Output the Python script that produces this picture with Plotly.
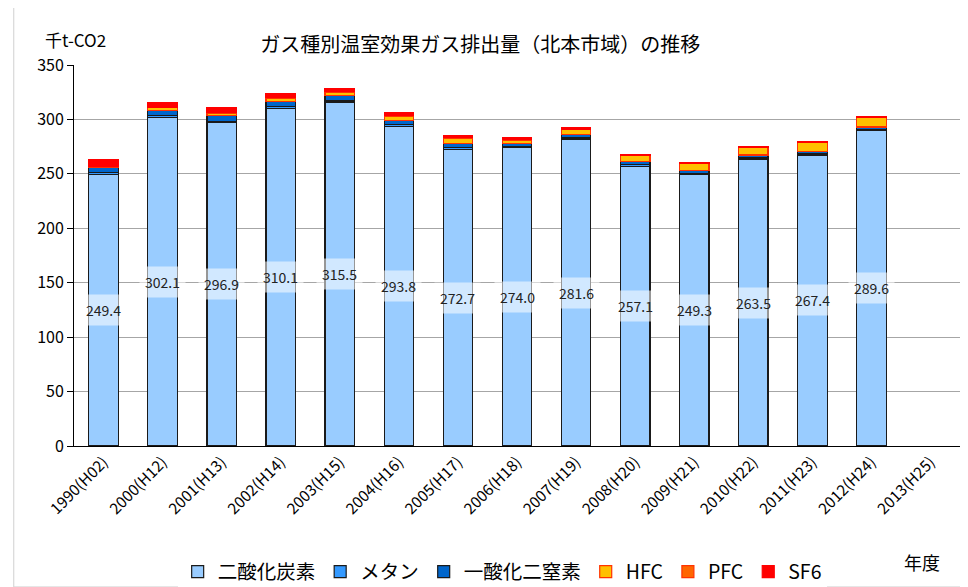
import plotly.graph_objects as go

years = ["1990(H02)", "2000(H12)", "2001(H13)", "2002(H14)", "2003(H15)", "2004(H16)",
         "2005(H17)", "2006(H18)", "2007(H19)", "2008(H20)", "2009(H21)", "2010(H22)",
         "2011(H23)", "2012(H24)", "2013(H25)"]
co2 = [249.4, 302.1, 296.9, 310.1, 315.5, 293.8, 272.7, 274.0, 281.6, 257.1, 249.3, 263.5, 267.4, 289.6, None]
ch4 = [2.0, 1.5, 1.5, 1.5, 1.5, 1.5, 1.5, 1.1, 1.4, 1.2, 1.2, 1.1, 1.0, 1.0, None]
n2o = [4.5, 4.5, 5.0, 5.0, 5.0, 3.7, 3.5, 2.5, 3.0, 3.0, 2.7, 2.7, 2.5, 2.4, None]
hfc = [0.3, 2.5, 2.2, 3.1, 3.2, 4.0, 4.5, 3.5, 4.5, 5.5, 6.0, 7.0, 8.0, 9.0, None]
pfc = [0.8, 0.5, 0.8, 0.6, 0.5, 0.5, 1.0, 0.8, 0.3, 0.3, 0.3, 0.2, 0.2, 0.1, None]
sf6 = [6.5, 4.8, 4.9, 3.8, 3.0, 3.2, 2.3, 1.5, 1.5, 1.0, 1.0, 1.0, 0.9, 0.9, None]

series = [
    ("二酸化炭素", co2, "#99CCFF", "#1A1A1A"),
    ("メタン", ch4, "#3399FF", "#1A1A1A"),
    ("一酸化二窒素", n2o, "#0066CC", "#1A1A1A"),
    ("HFC", hfc, "#FFC000", "#FF3300"),
    ("PFC", pfc, "#FF6600", "#FF3300"),
    ("SF6", sf6, "#FF0000", "#FF0000"),
]

font_family = "Noto Sans CJK JP, Noto Sans, sans-serif"

fig = go.Figure()
for name, vals, color, lc in series:
    fig.add_trace(go.Bar(
        x=years, y=vals, name=name,
        marker=dict(color=color, line=dict(color=lc, width=1.2)),
        hoverinfo="x+y+name",
    ))

for yr, v in zip(years, co2):
    if v is None:
        continue
    fig.add_annotation(
        x=yr, y=v / 2, text=f"{v:.1f}", showarrow=False,
        font=dict(size=14, color="#222222", family=font_family),
        bgcolor="rgba(255,255,255,0.55)", borderpad=5,
    )

fig.add_annotation(text="千t-CO2", xref="paper", yref="paper", x=-0.035, y=1.066,
                   xanchor="left", yanchor="middle", showarrow=False,
                   font=dict(size=17, color="#000000", family=font_family))
fig.add_annotation(text="年度", xref="paper", yref="paper", x=0.957, y=-0.304,
                   xanchor="center", yanchor="middle", showarrow=False,
                   font=dict(size=18, color="#000000", family=font_family))

fig.add_shape(type="rect", xref="paper", yref="paper", x0=-0.068, x1=1.002, y0=-0.37, y1=1.2,
              line=dict(color="#D0D0D0", width=1))

fig.update_layout(
    width=964, height=579,
    barmode="stack", bargap=0.5,
    plot_bgcolor="white", paper_bgcolor="white",
    margin=dict(l=66, r=12, t=57, b=141, autoexpand=False),
    title=dict(text="ガス種別温室効果ガス排出量（北本市域）の推移", x=0.49, xanchor="center",
               y=0.936, yanchor="middle",
               font=dict(size=20, color="#000000", family=font_family)),
    font=dict(family=font_family, color="#000000"),
    legend=dict(orientation="h", x=0.176, y=0.026, xref="container", yref="container",
                xanchor="left", yanchor="middle",
                font=dict(size=19.5, family=font_family), traceorder="normal",
                itemwidth=30, tracegroupgap=0),
    xaxis=dict(type="category", categoryorder="array", categoryarray=years,
               tickangle=-45, tickfont=dict(size=15.5, family=font_family), automargin=False,
               showline=True, linecolor="#000000", linewidth=1, ticks="", showgrid=False),
    yaxis=dict(range=[0, 350], dtick=50, tickfont=dict(size=16, family=font_family),
               automargin=False,
               showgrid=True, gridcolor="#A6A6A6", gridwidth=1,
               showline=True, linecolor="#000000", linewidth=1,
               ticks="outside", ticklen=6, tickcolor="#000000", zeroline=False),
)

fig.write_html("out.html")
